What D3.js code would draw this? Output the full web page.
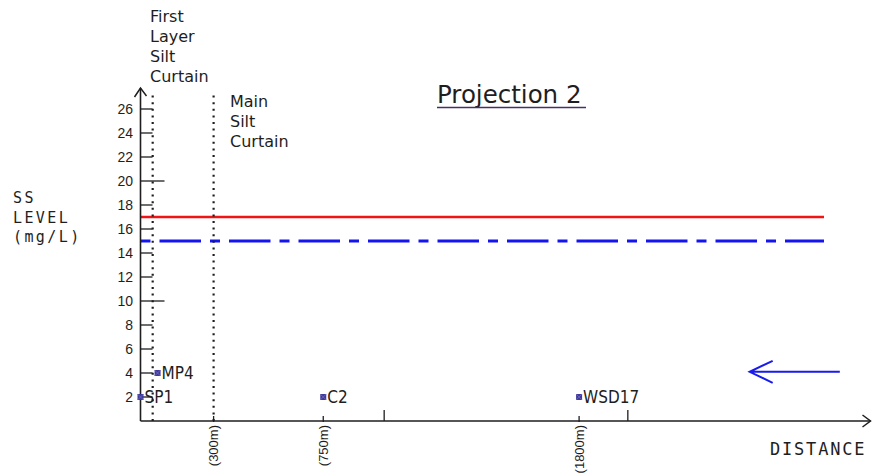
<!DOCTYPE html>
<html>
<head>
<meta charset="utf-8">
<script src="https://cdn.jsdelivr.net/npm/d3@7/dist/d3.min.js"></script>
<style>
  html, body { margin: 0; padding: 0; background: #ffffff; }
  svg { display: block; }
</style>
</head>
<body>
<svg id="chart" width="877" height="476"></svg>
<script>
// ---- data ----
const yTickValues = [2, 4, 6, 8, 10, 12, 14, 16, 18, 20, 22, 24, 26];
const yLongTicks = [10, 20];
const xLabelTicks = [300, 750, 1800];
const xTickLabels = ["(300m)", "(750m)", "(1800m)"];
const xMajorTicks = [1000, 2000];
const stations = ["SP1", "MP4", "C2", "WSD17"];
const stationDistance = [0, 70, 750, 1800];
const ssLevel = [2, 4, 2, 2];
const curtainDistance = [50, 300];
const curtainNames = [["First", "Layer", "Silt", "Curtain"], ["Main", "Silt", "Curtain"]];
const actionLevel = 17;
const triggerLevel = 15;
const limitExtent = [0, 2805];
const flowArrow = { from: [2870, 4.1], to: [2500, 4.1] };

// ---- scales ----
const svg = d3.select("#chart");
const x = d3.scaleLinear().domain([0, 3000]).range([140.5, 871.5]);
const y = d3.scaleLinear().domain([0, 27.75]).range([421, 88]);
const ink = "#1e1e1e";

// ---- threshold lines ----
svg.append("line")
  .attr("x1", x(limitExtent[0])).attr("x2", x(limitExtent[1]))
  .attr("y1", y(actionLevel)).attr("y2", y(actionLevel))
  .attr("stroke", "#f01414").attr("stroke-width", 2.6);
svg.append("line")
  .attr("x1", x(limitExtent[0])).attr("x2", x(limitExtent[1]))
  .attr("y1", y(triggerLevel)).attr("y2", y(triggerLevel))
  .attr("stroke", "#1414f0").attr("stroke-width", 2.8)
  .attr("stroke-dasharray", "10,9,41.5,9");

// ---- curtains (dotted verticals) ----
curtainDistance.forEach((d, i) => {
  svg.append("line")
    .attr("x1", x(d)).attr("x2", x(d))
    .attr("y1", y(0)).attr("y2", i === 0 ? 91 : 94)
    .attr("stroke", ink).attr("stroke-width", 2.2)
    .attr("stroke-dasharray", "2,4.6");
});
const curtainLabelPos = [[150, 22], [230, 107]];
curtainNames.forEach((lines, i) => {
  const t = svg.append("text")
    .attr("font-family", "DejaVu Sans, sans-serif")
    .attr("font-size", 16).attr("fill", ink);
  lines.forEach((ln, j) => {
    t.append("tspan").attr("x", curtainLabelPos[i][0])
      .attr("y", curtainLabelPos[i][1] + j * 20).text(ln);
  });
});

// ---- y axis ----
const yAxisG = svg.append("g");
yAxisG.append("line")
  .attr("x1", x(0)).attr("x2", x(0)).attr("y1", y(0)).attr("y2", y(27.75))
  .attr("stroke", ink).attr("stroke-width", 1.6);
yAxisG.append("path")
  .attr("d", `M${x(0) - 6},${y(27.75) + 9} L${x(0)},${y(27.75)} L${x(0) + 6},${y(27.75) + 8}`)
  .attr("fill", "none").attr("stroke", ink).attr("stroke-width", 1.5);
yAxisG.selectAll(".ytick").data(yTickValues).enter().append("line")
  .attr("x1", x(0)).attr("x2", d => x(0) + (yLongTicks.includes(d) ? 24 : 12))
  .attr("y1", d => y(d)).attr("y2", d => y(d))
  .attr("stroke", ink).attr("stroke-width", 1.3);
yAxisG.selectAll(".ylab").data(yTickValues).enter().append("text")
  .attr("x", 133).attr("y", d => y(d))
  .attr("dy", "0.36em")
  .attr("text-anchor", "end")
  .attr("font-family", "Liberation Sans, Arial, sans-serif")
  .attr("font-size", 14).attr("fill", ink)
  .text(d => d);

// ---- x axis ----
const xAxisG = svg.append("g");
xAxisG.append("line")
  .attr("x1", x(0)).attr("x2", x(3000) - 1).attr("y1", y(0)).attr("y2", y(0))
  .attr("stroke", ink).attr("stroke-width", 1.6);
xAxisG.append("path")
  .attr("d", `M${x(3000) - 9},${y(0) - 6} L${x(3000) - 1},${y(0)} L${x(3000) - 9},${y(0) + 6}`)
  .attr("fill", "none").attr("stroke", ink).attr("stroke-width", 1.5);
xAxisG.selectAll(".xmaj").data(xMajorTicks).enter().append("line")
  .attr("x1", d => x(d)).attr("x2", d => x(d))
  .attr("y1", y(0)).attr("y2", y(0) - 11)
  .attr("stroke", ink).attr("stroke-width", 1.3);
xAxisG.selectAll(".xmin").data(xLabelTicks).enter().append("line")
  .attr("x1", d => x(d)).attr("x2", d => x(d))
  .attr("y1", y(0) + 1).attr("y2", y(0) - 5)
  .attr("stroke", ink).attr("stroke-width", 1.3);
xAxisG.selectAll(".xlab").data(xLabelTicks).enter().append("text")
  .attr("transform", d => `translate(${x(d)},${y(0) + 4}) rotate(-90)`)
  .attr("dy", "0.36em")
  .attr("text-anchor", "end")
  .attr("font-family", "Liberation Sans, Arial, sans-serif")
  .attr("font-size", 13).attr("fill", ink)
  .text((d, i) => xTickLabels[i]);

// ---- stations ----
const pts = svg.append("g");
stations.forEach((s, i) => {
  const cx = x(stationDistance[i]), cy = y(ssLevel[i]);
  pts.append("rect")
    .attr("x", cx - 3).attr("y", cy - 3).attr("width", 6).attr("height", 6)
    .attr("fill", "#3a3aa0");
  pts.append("path")
    .attr("d", `M${cx - 3},${cy - 3} L${cx + 3},${cy + 3} M${cx + 3},${cy - 3} L${cx - 3},${cy + 3}`)
    .attr("stroke", "#7a6ab0").attr("stroke-width", 0.8);
  pts.append("text")
    .attr("x", cx + 4).attr("y", cy).attr("dy", "0.38em")
    .attr("font-family", "Liberation Sans Narrow, DejaVu Sans Condensed, Arial Narrow, sans-serif")
    .attr("font-size", 17).attr("fill", ink)
    .text(s);
});

// ---- axis titles ----
const ssLines = ["SS", "LEVEL", "(mg/L)"];
const ssT = svg.append("text")
  .attr("font-family", "DejaVu Sans Mono, monospace")
  .attr("font-size", 15).attr("fill", ink)
  .attr("letter-spacing", 2.4);
ssLines.forEach((ln, j) => {
  ssT.append("tspan").attr("x", 13).attr("y", 203 + j * 19.5).text(ln);
});
svg.append("text")
  .attr("x", 770).attr("y", 455)
  .attr("font-family", "DejaVu Sans Mono, monospace")
  .attr("font-size", 17).attr("fill", ink)
  .attr("letter-spacing", 1.8)
  .text("DISTANCE");

// ---- title ----
svg.append("text")
  .attr("x", 437).attr("y", 103)
  .attr("font-family", "DejaVu Sans, sans-serif")
  .attr("font-size", 24.5).attr("fill", ink)
  .text("Projection 2");
svg.append("line")
  .attr("x1", 437).attr("x2", 586).attr("y1", 107.5).attr("y2", 107.5)
  .attr("stroke", "#4a2f66").attr("stroke-width", 1.6);

// ---- flow direction arrow ----
const ax1 = x(flowArrow.from[0]), ay = y(flowArrow.from[1]), ax2 = x(flowArrow.to[0]);
svg.append("path")
  .attr("d", `M${ax1},${ay} L${ax2},${ay} M${ax2 + 23},${ay - 11} L${ax2},${ay} L${ax2 + 23},${ay + 11}`)
  .attr("fill", "none").attr("stroke", "#1a1aee").attr("stroke-width", 2);
</script>
</body>
</html>
